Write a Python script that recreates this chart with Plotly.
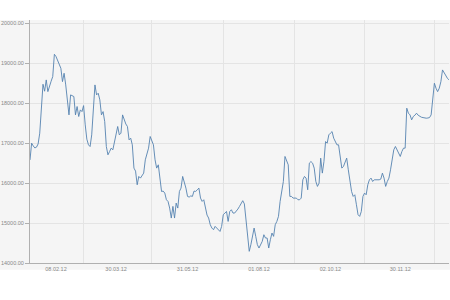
import pandas as pd
import plotly.graph_objects as go

start_date = "2012-01-17"
values = [
    16580, 17000, 16930, 16880, 16900, 16980, 17250, 17800, 18475, 18300,
    18583, 18290, 18450, 18550, 18667, 19225, 19170, 19080, 19000, 18875,
    18540, 18750, 18458, 18040, 17708, 18208, 18180, 18167, 17708, 17917,
    17667, 17833, 17790, 17940, 17458, 17100, 16958, 16915, 17208, 17790,
    18458, 18208, 18250, 18083, 17708, 17790, 17540, 16915, 16708, 16790,
    16875, 16833, 17040, 17150, 17417, 17208, 17250, 17708, 17583, 17480,
    17417, 17083, 17125, 16958, 16375, 16300, 15958, 16167, 16125, 16200,
    16250, 16583, 16750, 16875, 17167, 17040, 16958, 16583, 16375, 16458,
    16040, 15790, 15800, 15750, 15583, 15540, 15375, 15125, 15417, 15125,
    15500, 15375, 15792, 15875, 16167, 16040, 15875, 15667, 15650, 15680,
    15667, 15800, 15792, 15830, 15875, 15625, 15542, 15583, 15375, 15200,
    15125, 14958, 14875, 14833, 14917, 14880, 14833, 14790, 14917, 15208,
    15250, 15290, 15040, 15290, 15333, 15250, 15250, 15290, 15350, 15417,
    15500, 15560, 15480, 15083, 14667, 14292, 14458, 14708, 14875, 14667,
    14458, 14375, 14458, 14542, 14708, 14625, 14625, 14375, 14583, 14750,
    14667, 14958, 15040, 15167, 15540, 15790, 16040, 16667, 16583, 16458,
    15667, 15667, 15625, 15625, 15625, 15583, 15583, 15625, 16083, 16167,
    16125, 15833, 16500, 16540, 16500, 16375, 16040, 15917, 16000, 16625,
    16250, 16540, 17040, 17000, 17208, 17250, 17290, 17125, 17040, 16958,
    16958, 16625, 16375, 16417, 16542, 16625, 16333, 16040, 15792, 15667,
    15708, 15458, 15208, 15167, 15290, 15667, 15750, 15708, 15958, 16083,
    16125, 16040, 16083, 16083, 16080, 16083, 16100, 16250, 16125, 15917,
    16040, 16125, 16333, 16583, 16833, 16917, 16833, 16750, 16667, 16792,
    16875, 16875, 17875, 17750, 17708, 17583, 17667, 17700, 17750, 17700,
    17667, 17650, 17640, 17630, 17625, 17630, 17640, 17708, 18125, 18500,
    18375, 18290, 18375, 18540, 18833, 18750, 18667, 18625, 18583,
]
dates = pd.bdate_range(start=start_date, periods=len(values))

tick_dates = ["2012-02-08", "2012-03-30", "2012-05-31", "2012-08-01", "2012-10-02", "2012-11-30"]
tick_labels = ["08.02.12", "30.03.12", "31.05.12", "01.08.12", "02.10.12", "30.11.12"]
grid_dates = ["2012-03-02", "2012-05-01", "2012-07-02", "2012-08-31", "2012-10-31", "2012-12-31"]
y_ticks = [14000, 15000, 16000, 17000, 18000, 19000, 20000]

fig = go.Figure()
fig.add_trace(go.Scatter(
    x=dates, y=values, mode="lines",
    line=dict(color="#5582b0", width=0.9),
    hoverinfo="skip",
))

fig.update_layout(
    width=450, height=300,
    margin=dict(l=26, r=1, t=20, b=37),
    paper_bgcolor="white",
    plot_bgcolor="rgba(0,0,0,0)",
    showlegend=False,
    font=dict(family="Liberation Sans, Arial, sans-serif", size=5.5, color="#888888"),
    shapes=[dict(
        type="rect", xref="paper", yref="paper",
        x0=-0.2, x1=1.05, y0=-0.028, y1=1.0,
        fillcolor="#f5f5f5", line=dict(width=0), layer="below",
    )],
)
fig.update_xaxes(
    range=[dates[0], dates[-1]],
    rangebreaks=[dict(bounds=["sat", "mon"])],
    tickmode="array", tickvals=tick_dates, ticktext=tick_labels,
    showgrid=False, ticks="", ticklen=0,
    showline=True, linecolor="#b0b0b0", linewidth=1,
    minor=dict(tickmode="array", tickvals=grid_dates, showgrid=True,
               gridcolor="#e4e4e4", gridwidth=1, ticks=""),
    zeroline=False,
)
fig.update_yaxes(
    range=[14000, 20083],
    tickmode="array", tickvals=y_ticks, tickformat=".2f",
    showgrid=True, gridcolor="#e4e4e4", gridwidth=1,
    ticks="outside", ticklen=4, tickcolor="#b0b0b0",
    showline=True, linecolor="#b0b0b0", linewidth=1,
    zeroline=False,
)

fig.write_html("out.html")
